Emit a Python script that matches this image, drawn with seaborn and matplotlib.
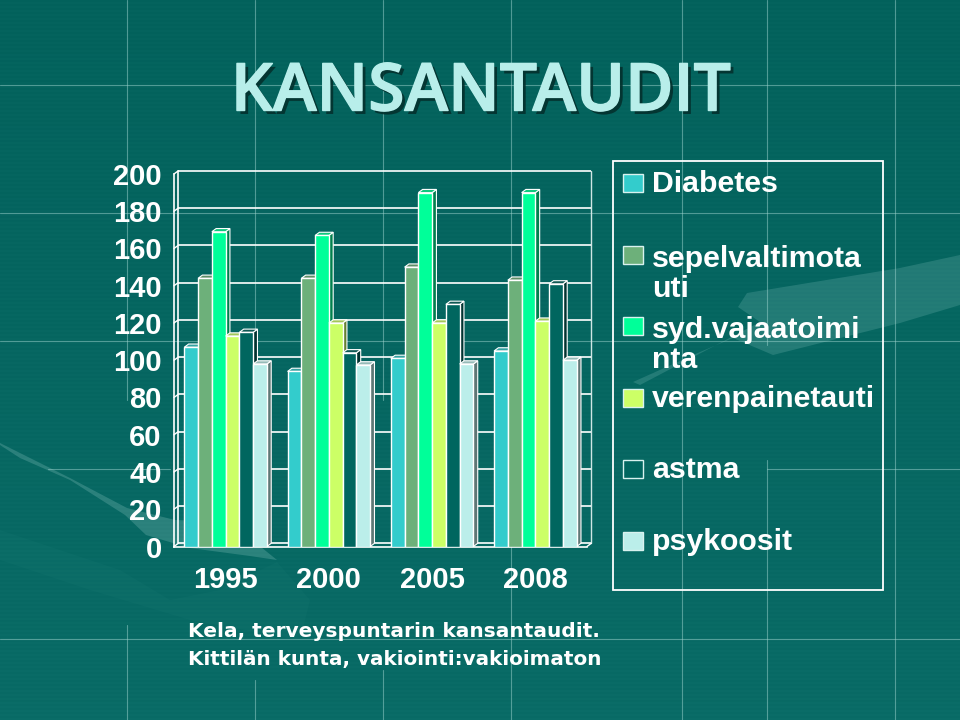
import numpy as np
import pandas as pd
import matplotlib
matplotlib.use("Agg")
import matplotlib.pyplot as plt
import matplotlib.patheffects as pe
from matplotlib.patches import Polygon, Rectangle
from matplotlib.colors import to_rgb
import seaborn as sns

years = ["1995", "2000", "2005", "2008"]
diseases = ["Diabetes", "sepelvaltimotauti", "syd.vajaatoiminta",
            "verenpainetauti", "astma", "psykoosit"]
diabetes = [107, 94, 101, 105]
sepelvaltimotauti = [144, 144, 150, 143]
syd_vajaatoiminta = [169, 167, 190, 190]
verenpainetauti = [113, 120, 120, 121]
astma = [115, 104, 130, 141]
psykoosit = [98, 97.5, 98, 100]
series = [diabetes, sepelvaltimotauti, syd_vajaatoiminta,
          verenpainetauti, astma, psykoosit]
colors = ["#33CCCC", "#6DB07A", "#00FF99", "#CCFF66", "#00665F", "#BBEEEA"]
legend_lines = ["Diabetes", "sepelvaltimota\nuti", "syd.vajaatoimi\nnta",
                "verenpainetauti", "astma", "psykoosit"]
y_ticks = list(range(0, 201, 20))

df = pd.DataFrame([
    {"year": y, "disease": d, "value": v}
    for d, vals in zip(diseases, series) for y, v in zip(years, vals)
])

sns.set_theme(style="white")
W, H = 960, 720
fig = plt.figure(figsize=(W / 100, H / 100), dpi=100, facecolor="#076660")

# ---- slide background -------------------------------------------------
bg = fig.add_axes([0, 0, 1, 1], zorder=0)
bg.set_xlim(0, W)
bg.set_ylim(H, 0)
bg.axis("off")
rows = np.zeros((H, 1, 3))
top_c, bot_c = np.array(to_rgb("#03625C")), np.array(to_rgb("#096B66"))
for r in range(H):
    t = r / (H - 1)
    stripe = 0.005 if (r // 2) % 2 else -0.003
    rows[r, 0] = np.clip((1 - t) * top_c + t * bot_c + stripe, 0, 1)
bg.imshow(rows, extent=(0, W, H, 0), aspect="auto", interpolation="nearest", zorder=0)

# decorative swooshes
swooshes = [
    ([(0, 443), (70, 478), (127, 508), (175, 520), (230, 522), (277, 560),
      (250, 556), (190, 548), (146, 535), (125, 515), (70, 480), (20, 458), (0, 445)],
     "#BFE8E4", 0.20),
    ([(0, 530), (120, 570), (170, 600), (220, 590), (277, 562), (310, 600),
      (300, 640), (190, 620), (90, 590), (0, 560)], "#2A8882", 0.10),
    ([(633, 382), (700, 352), (733, 338), (773, 355), (900, 323), (960, 305),
      (960, 255), (900, 268), (747, 293), (738, 307), (760, 322), (640, 385)],
     "#8CC8C4", 0.22),
]
for pts, col, a in swooshes:
    bg.add_patch(Polygon(pts, closed=True, facecolor=col, edgecolor="none", alpha=a, zorder=1))

# slide grid lines
line_col = "#9FD4CF"
v_lines = [(127, 0, 400), (127, 625, 720), (255, 0, 400), (255, 680, 720),
           (383, 0, 400), (383, 670, 720), (511, 0, 720), (682, 0, 720),
           (767, 0, 345), (767, 460, 720), (895, 0, 720)]
h_lines = [(85, 0, 960), (213, 0, 960), (341, 0, 960), (469, 48, 170),
           (469, 767, 960), (639, 0, 960)]
for x, y0, y1 in v_lines:
    bg.plot([x, x], [y0, y1], color=line_col, lw=0.8, alpha=0.5, zorder=2)
for y, x0, x1 in h_lines:
    bg.plot([x0, x1], [y, y], color=line_col, lw=0.8, alpha=0.5, zorder=2)
bg.set_xlim(0, W)
bg.set_ylim(H, 0)

# ---- chart ------------------------------------------------------------
x0_px, x1_px, y_base, y_top = 174, 587, 546.5, 174
ax = fig.add_axes([x0_px / W, (H - y_base) / H, (x1_px - x0_px) / W, (y_base - y_top) / H], zorder=2)
ax.patch.set_alpha(0)
sns.barplot(data=df, x="year", y="value", hue="disease", hue_order=diseases,
            order=years, palette=colors, saturation=1, width=0.8, gap=0,
            edgecolor="white", linewidth=1.0, legend=False, ax=ax, zorder=5)
ax.set_xlim(-0.5, 3.5)
ax.set_ylim(0, 200)
ax.set_xlabel("")
ax.set_ylabel("")

DX = 4.3 / ((x1_px - x0_px) / 4)
DY = 3.2 / ((y_base - y_top) / 200)

# back wall and floor of the 3-D box
for yv in y_ticks:
    ax.plot([-0.5 + DX, 3.5 + DX], [yv + DY, yv + DY], color="white", lw=1.2,
            zorder=1, clip_on=False, solid_capstyle="butt")
    ax.plot([-0.5, -0.5 + DX], [yv, yv + DY], color="white", lw=1.0, zorder=1, clip_on=False)
ax.plot([-0.5 + DX] * 2, [DY, 200 + DY], color="white", lw=1.2, zorder=1, clip_on=False)
ax.plot([3.5 + DX] * 2, [DY, 200 + DY], color="#CFE6E4", lw=1.0, zorder=1, clip_on=False)
ax.plot([3.5, 3.5 + DX], [0, DY], color="white", lw=1.0, zorder=1, clip_on=False)

# 3-D faces derived from each bar that seaborn drew
bars = [p for p in ax.patches if isinstance(p, Rectangle) and p.get_height() > 0]
bars.sort(key=lambda p: p.get_x())
for i, b in enumerate(bars):
    x, w, h = b.get_x(), b.get_width(), b.get_height()
    rgb = np.array(b.get_facecolor()[:3])
    z = 3 + i * 0.01
    b.set_zorder(z + 0.005)
    b.set_linewidth(1.0)
    ax.add_patch(Polygon([(x + w, 0), (x + w, h), (x + w + DX, h + DY), (x + w + DX, DY)],
                         closed=True, facecolor=rgb * 0.5, edgecolor="white", lw=0.8,
                         zorder=z, clip_on=False))
    ax.add_patch(Polygon([(x, h), (x + w, h), (x + w + DX, h + DY), (x + DX, h + DY)],
                         closed=True, facecolor=rgb * 0.72 + 0.06, edgecolor="white", lw=0.8,
                         zorder=z, clip_on=False))

sns.despine(ax=ax, top=True, right=True)
for side in ("left", "bottom"):
    ax.spines[side].set_color("white")
    ax.spines[side].set_linewidth(1.2)
ax.set_yticks(y_ticks)
ax.set_yticklabels([str(v) for v in y_ticks])
ax.set_xticks([-0.5, 0.5, 1.5, 2.5, 3.5], minor=True)
ax.set_xticks(range(4), years)
ax.tick_params(axis="x", which="major", length=0, pad=14)
ax.tick_params(axis="x", which="minor", length=4.3, width=1, color="white", direction="out")
ax.tick_params(axis="y", length=4.3, width=1, color="white", direction="out", pad=4.5)
for lab in ax.get_xticklabels() + ax.get_yticklabels():
    lab.set_fontfamily("Liberation Sans")
    lab.set_fontweight("bold")
    lab.set_color("white")
    lab.set_fontsize(21)

# ---- title, source note ------------------------------------------------
title = bg.text(481, 94, "KANSANTAUDIT", ha="center", va="center", color="#B8EEEA",
                fontsize=47.5, fontweight="semibold", family="Open Sans", zorder=6)
title.set_path_effects([
    pe.SimplePatchShadow(offset=(2.5, -2.5), shadow_rgbFace="#04312E", alpha=0.9),
    pe.Stroke(linewidth=1.0, foreground="#B8EEEA"), pe.Normal()])
bg.text(188, 637, "Kela, terveyspuntarin kansantaudit.", color="white", fontsize=14.5,
        fontweight="bold", family="DejaVu Sans", ha="left", va="baseline", zorder=6)
bg.text(188, 665, "Kittilän kunta, vakiointi:vakioimaton", color="white", fontsize=14.4,
        fontweight="bold", family="DejaVu Sans", ha="left", va="baseline", zorder=6)

# ---- legend panel -------------------------------------------------------
bg.add_patch(Rectangle((613, 161), 270, 429, facecolor="none", edgecolor="white", lw=1.3, zorder=6))
for i, (lab, col) in enumerate(zip(legend_lines, colors)):
    yc = 183 + 71.6 * i
    extra = 33 * lab.count("\n")
    bg.add_patch(Rectangle((622.5, yc - 9), 20, 18, facecolor=col, edgecolor="#D8F2EF", lw=1, zorder=6))
    bg.text(652, yc + 9 + extra, lab, color="white", fontsize=21.8, fontweight="bold",
            family="Liberation Sans", ha="left", va="baseline", linespacing=1.09, zorder=6)

bg.set_xlim(0, W)
bg.set_ylim(H, 0)
fig.savefig("out.png", dpi=100, facecolor=fig.get_facecolor())
